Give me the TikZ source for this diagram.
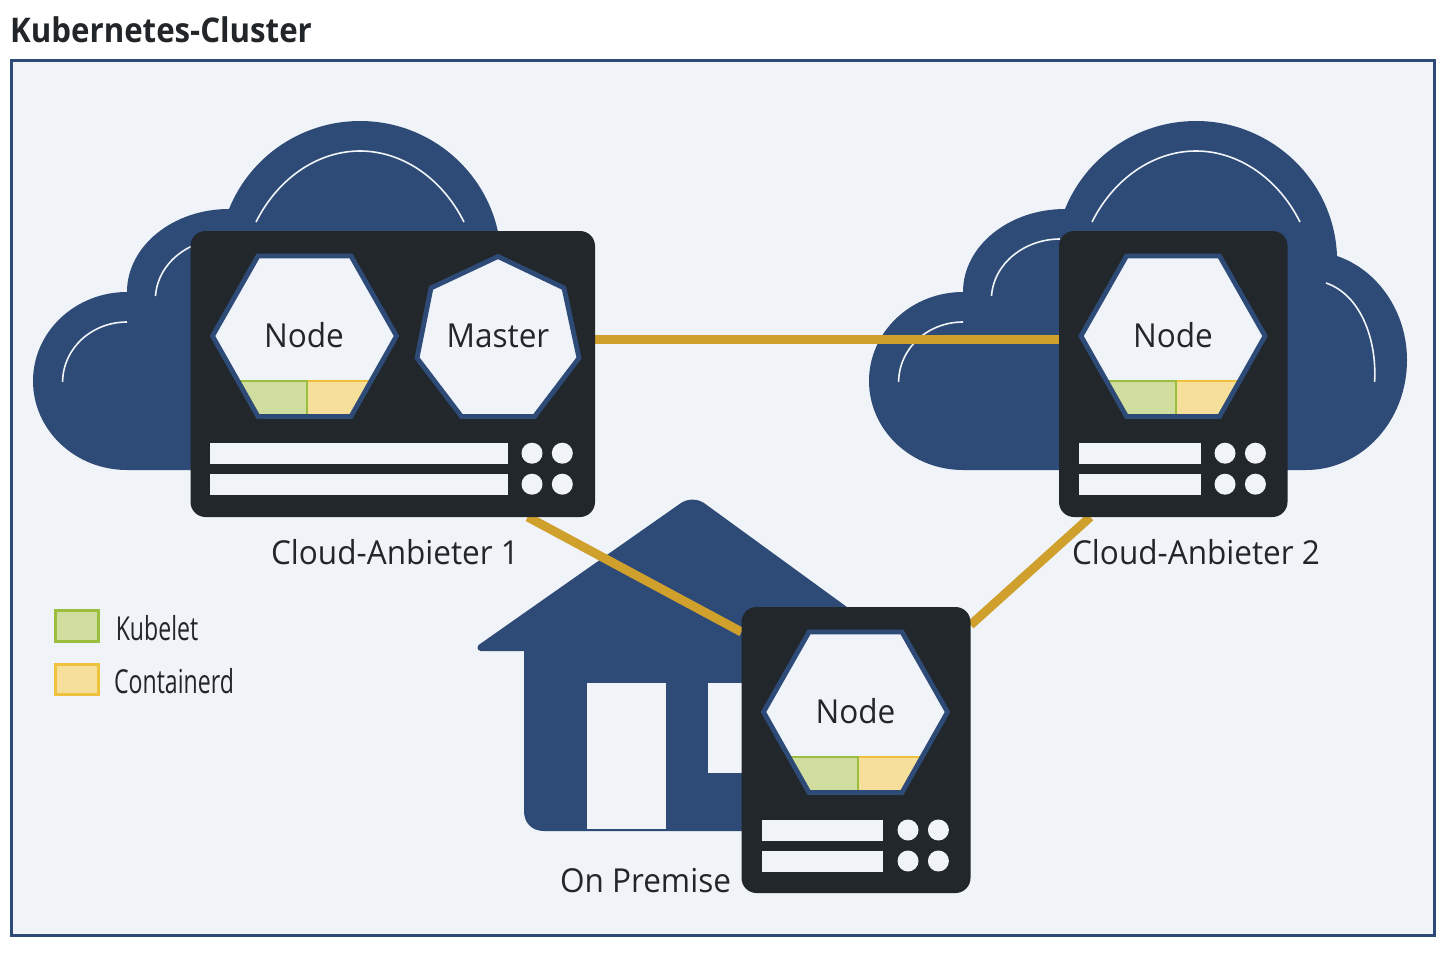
\documentclass[tikz,border=0pt]{standalone}
\usepackage{fontspec}
\setmainfont{Open Sans}
\pgfdeclarelayer{scenery}
\pgfdeclarelayer{links}
\pgfsetlayers{scenery,links,main}
\definecolor{bgc}{HTML}{F0F3F7}
\definecolor{navy}{HTML}{2E4B78}
\definecolor{dark}{HTML}{21272B}
\definecolor{gold}{HTML}{D0A02C}
\definecolor{kfill}{HTML}{D0DD9F}
\definecolor{kline}{HTML}{9CBE3F}
\definecolor{cfill}{HTML}{F6DF9B}
\definecolor{cline}{HTML}{EFC23E}
\definecolor{ink}{HTML}{222629}
\tikzset{
  server/.style={fill=dark,rounded corners=15pt,inner sep=0pt,outer sep=0pt,anchor=north west},
  link/.style={draw=gold,line width=9pt},
  outline/.style={draw=navy,line width=4.8pt,line join=miter},
  shine/.style={draw=bgc,line width=1.6pt},
  lbl/.style={font=\fontsize{33}{38}\selectfont,text=ink,inner sep=0pt,xscale=0.955,transform shape},
  legbox/.style={line width=3pt,inner sep=0pt,outer sep=0pt,anchor=north west},
  legtxt/.style={font=\fontsize{33}{38}\selectfont,text=ink,inner sep=0pt,xscale=0.70,transform shape},
}
\newcommand{\cloudshape}[1]{%
  \begin{scope}[shift={(#1,0)}]
    \fill[navy] (127,470) .. controls (75,470) and (33,430) .. (33,381)
      .. controls (33,332) and (75,292) .. (127,292)
      .. controls (127,246) and (173,209) .. (229,209)
      .. controls (250.6,155.7) and (302.5,121) .. (360,121)
      .. controls (436,121) and (498.3,181) .. (501,256)
      .. controls (542,270) and (571,312) .. (571,360)
      .. controls (571,421) and (526,470) .. (470,470) -- cycle;
    \draw[shine] (256,222) .. controls (278,178) and (318,151) .. (360,151)
      .. controls (402,151) and (442,178) .. (464,222);
    \draw[shine] (155.5,296) .. controls (158,262) and (190,239) .. (224,239);
    \draw[shine] (62.6,382) .. controls (63,348) and (92,322) .. (127,322);
    \draw[shine] (490,283) .. controls (525,295) and (541,340) .. (538.6,382);
  \end{scope}}
\newcommand{\hexagonicon}[2]{%
  \begin{scope}[shift={(#1,#2)}]
    \fill[bgc] (-92,0) -- (-46.5,-80) -- (46.5,-80) -- (92,0) -- (46.5,80.5) -- (-46.5,80.5) -- cycle;
    \fill[kfill] (-66.5,45) -- (2.5,45) -- (2.5,80.5) -- (-46.5,80.5) -- cycle;
    \fill[cfill] (2.5,45) -- (66.5,45) -- (46.5,80.5) -- (2.5,80.5) -- cycle;
    \draw[kline,line width=2pt] (-66.5,45) -- (2.5,45) -- (2.5,80.5);
    \draw[cline,line width=2pt] (3.5,45) -- (66.5,45);
    \draw[outline] (-92,0) -- (-46.5,-80) -- (46.5,-80) -- (92,0) -- (46.5,80.5) -- (-46.5,80.5) -- cycle;
  \end{scope}}
\newcommand{\slots}[5]{%
  \begin{scope}[shift={(0,#5)}]
    \fill[bgc] (#1,0) rectangle (#2,21);
    \fill[bgc] (#1,31) rectangle (#2,52.5);
    \foreach \cx in {#3,#4} {
      \fill[bgc] (\cx,10.5) circle (10.5pt);
      \fill[bgc] (\cx,41.5) circle (10.5pt);
    }
  \end{scope}}
\begin{document}
\begin{tikzpicture}[x=1pt,y=-1pt]
\useasboundingbox (0,0) rectangle (1456,955);
\begin{pgfonlayer}{scenery}
\fill[white] (0,0) rectangle (1456,955);
\node[draw=navy,line width=2.5pt,fill=bgc,minimum width=1423pt,minimum height=875pt,inner sep=0pt,outer sep=0pt,anchor=north west] (frame) at (11.5,60.5) {};
\cloudshape{0}
\cloudshape{836}
\fill[navy] (524,655) -- (524,651) -- (481,651) .. controls (477,651) and (476,646) .. (480,644)
  -- (681,503) .. controls (688,498.5) and (697,498.5) .. (704,503) -- (906,650) -- (880,650)
  -- (880,831) -- (544,831) .. controls (532,831) and (524,823) .. (524,811) -- cycle;
\fill[bgc] (587.4,683.3) rectangle (665.5,829);
\fill[bgc] (707.8,683.3) rectangle (760,773.3);
\end{pgfonlayer}

\node[anchor=base west,inner sep=0pt,font=\fontsize{34}{40}\selectfont\bfseries,text=ink,xscale=0.918,transform shape] (title) at (10,43) {Kubernetes-Cluster};

\node[server,minimum width=404.5pt,minimum height=286pt] (s1) at (190.5,231) {};
\node[server,minimum width=228.5pt,minimum height=286pt] (s2) at (1059,231) {};
\node[server,minimum width=229pt,minimum height=286pt] (prem) at (741.5,607) {};

\begin{pgfonlayer}{links}
\draw[link] ([yshift=35pt]s1.east) -- ([yshift=35pt]s2.west);
\draw[link] ([xshift=135pt]s1.south) -- ([yshift=118pt]prem.west);
\draw[link] ([xshift=-83pt]s2.south) -- ([yshift=125pt]prem.east);
\end{pgfonlayer}

\hexagonicon{304.5}{336}
\hexagonicon{1173}{336}
\hexagonicon{855.5}{712}
\filldraw[fill=bgc,draw=navy,line width=4.8pt] (498,256.5) -- (564,288) -- (579,358) -- (534.5,416.5) -- (461.5,416.5) -- (417,358) -- (431,288) -- cycle;

\slots{210.4}{507.8}{532}{562.3}{442.7}
\slots{1079}{1201}{1225}{1255.4}{442.7}
\slots{762}{883.3}{908}{938.4}{819.5}

\node[lbl] (n1) at (304,335.5) {Node};
\node[lbl] (m1) at (498,335.5) {Master};
\node[lbl] (n2) at (1173,335.5) {Node};
\node[lbl] (n3) at (855.5,711.5) {Node};
\node[lbl] (c1) at (395,552) {Cloud-Anbieter 1};
\node[lbl] (c2) at (1196,552) {Cloud-Anbieter 2};
\node[lbl] (op) at (645.5,881) {On Premise};

\node[legbox,draw=kline,fill=kfill,minimum width=43pt,minimum height=31pt] (lk) at (55.5,610.5) {};
\node[legbox,draw=cline,fill=cfill,minimum width=43pt,minimum height=30pt] (lc) at (55.5,664.5) {};
\node[legtxt] (tk) at (157,628) {Kubelet};
\node[legtxt] (tc) at (174,681) {Containerd};
\end{tikzpicture}
\end{document}
